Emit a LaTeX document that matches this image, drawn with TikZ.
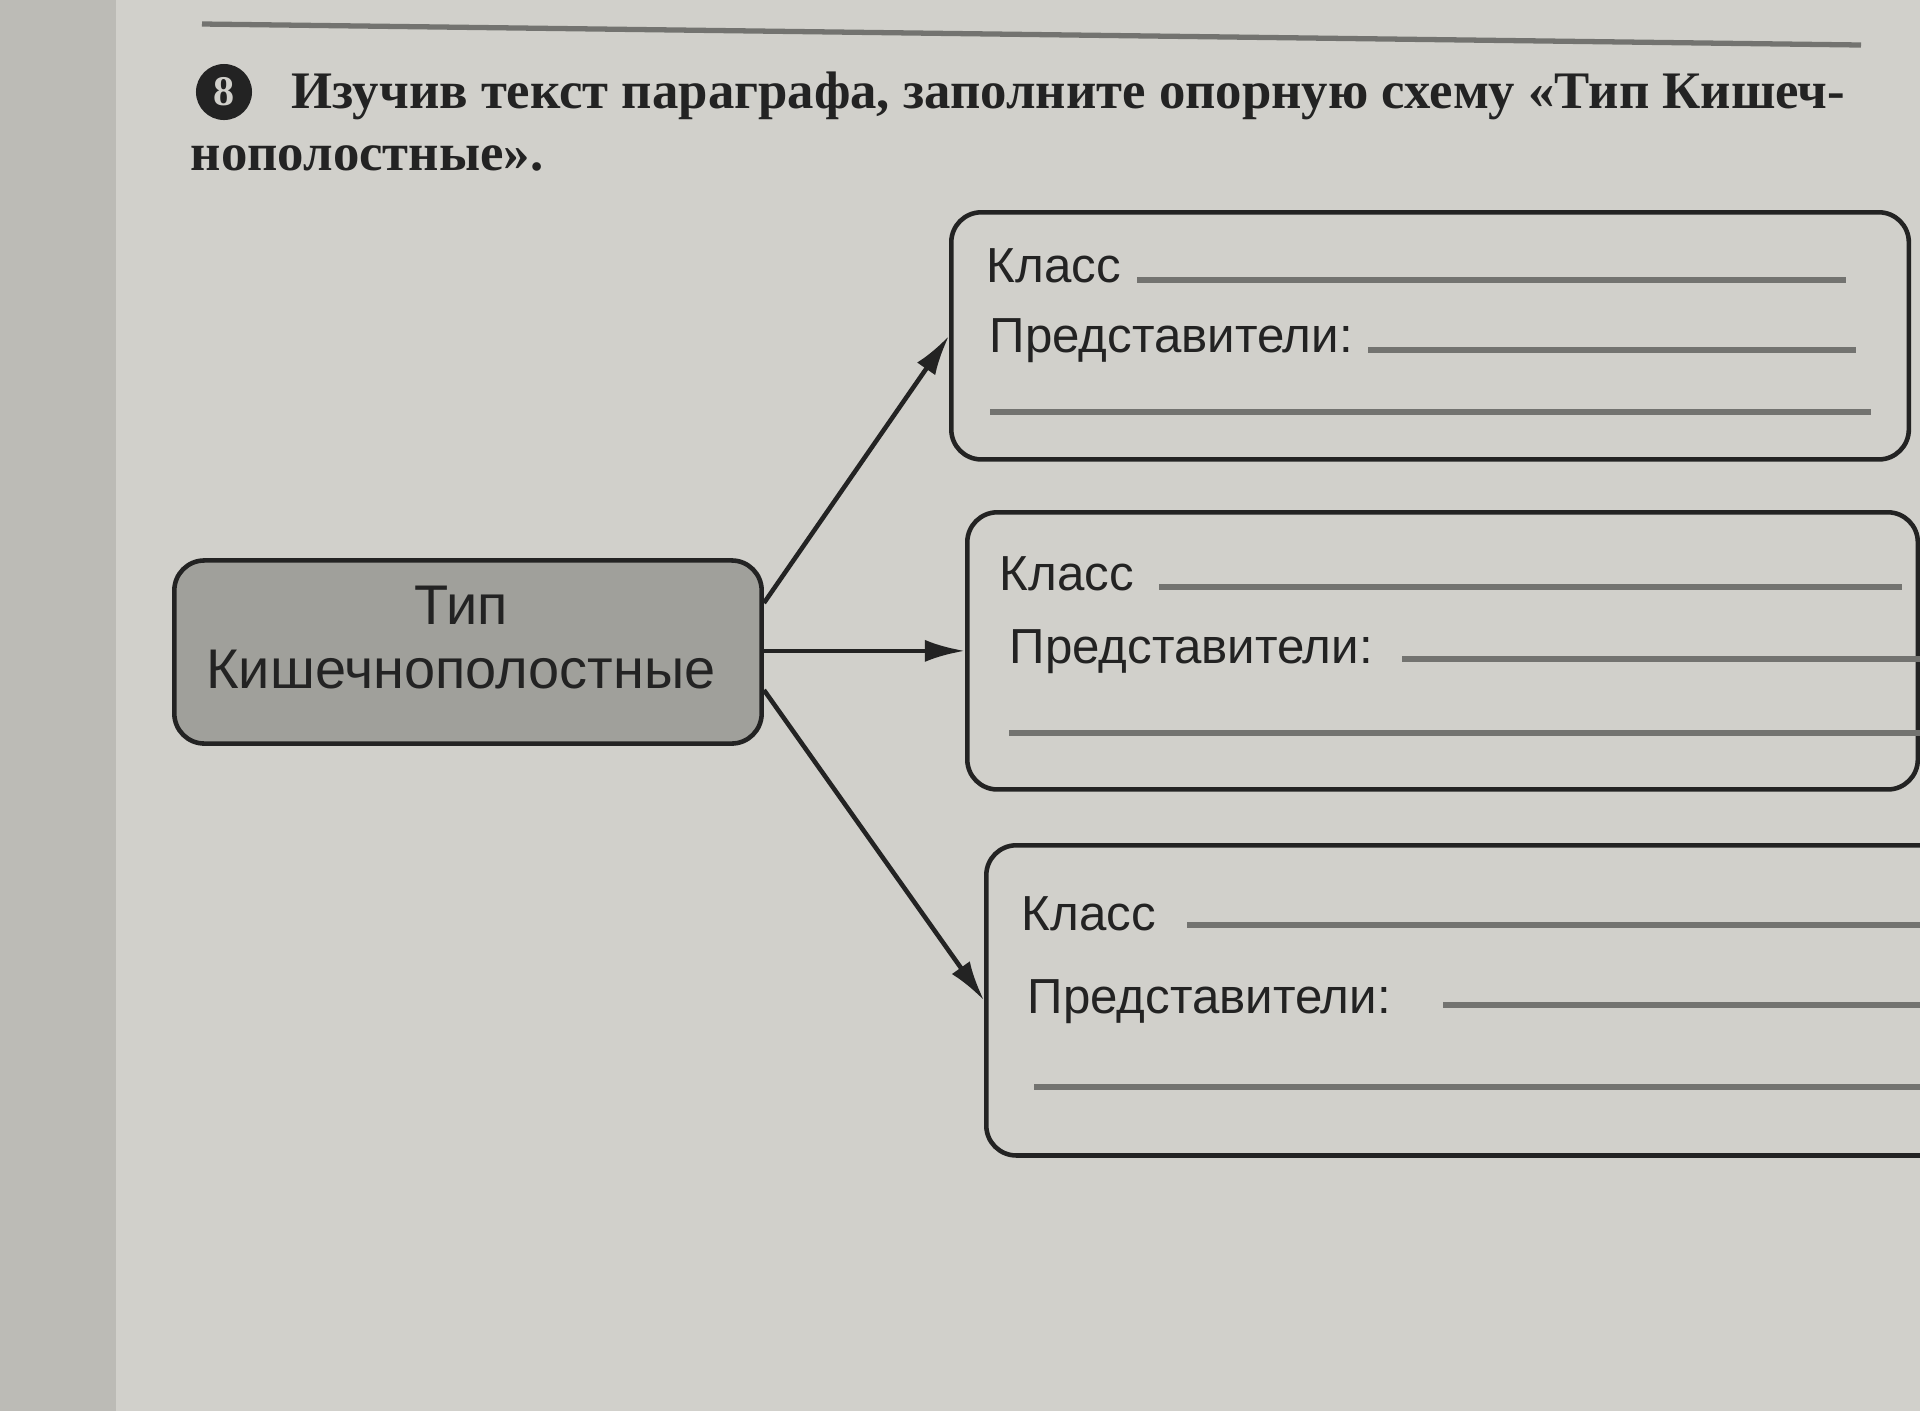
\documentclass[tikz,border=0pt]{standalone}
\usepackage{fontspec}
\setmainfont{Liberation Sans}
\newfontfamily\zadfont{Liberation Serif}
\usetikzlibrary{positioning, arrows.meta}

\definecolor{paper}{RGB}{209,208,203}
\definecolor{paperdark}{RGB}{188,187,182}
\definecolor{tipgray}{RGB}{160,160,155}
\definecolor{ink}{RGB}{35,35,35}
\definecolor{rulegray}{RGB}{115,115,112}

\tikzset{
    klassbox/.style={draw=ink, line width=1.3pt, rounded corners=0.3cm, anchor=north west, inner sep=0pt},
    pointer/.style={-{Latex[length=0.4cm, width=0.22cm]}, line width=1.3pt, draw=ink},
    fillline/.style={draw=rulegray, line width=1.9pt},
    lbl/.style={anchor=base west, inner sep=0pt, text=ink, font=\fontsize{14}{17}\selectfont},
    headline/.style={anchor=base west, inner sep=0pt, text=ink, font=\zadfont\bfseries\fontsize{15}{18}\selectfont},
}

\begin{document}
\begin{tikzpicture}[x=0.01cm, y=-0.01cm]
    \useasboundingbox (0,0) rectangle (1920,1411);
    \clip (0,0) rectangle (1920,1411);
    \fill[paper] (0,0) rectangle (1920,1411);
    \fill[paperdark] (0,0) rectangle (116,1411);
    \draw[rulegray, line width=1.5pt] (202,24) -- (1861,45);

    % heading
    \node[circle, fill=ink, minimum size=0.56cm, inner sep=0pt, text=paper, font=\zadfont\bfseries\fontsize{12}{12}\selectfont] (num) at (224,92) {8};
    \node[headline] (head) at (291,108) {Изучив текст параграфа, заполните опорную схему «Тип Кишеч-};
    \node[headline] (headend) at (190,170) {нополостные».};

    % central node
    \node[draw=ink, fill=tipgray, line width=1.3pt, rounded corners=0.3cm, minimum width=5.87cm, minimum height=1.83cm] (tip) at (468,652) {};
    \node[align=center, inner sep=0pt, text=ink, font=\fontsize{15.9}{18.2}\selectfont] (tiptext) at (461,638) {Тип\\Кишечнополостные};

    % class boxes
    \node[klassbox, minimum width=9.57cm, minimum height=2.47cm] (k1) at (949,210) {};
    \node[klassbox, minimum width=9.5cm, minimum height=2.77cm] (k2) at (965,510) {};
    \node[klassbox, minimum width=10cm, minimum height=3.1cm] (k3) at (984,843) {};

    \draw[pointer] ([yshift=0.49cm]tip.east) -- (k1.west);
    \draw[pointer] (tip.east |- k2.west) -- (k2.west);
    \draw[pointer] ([yshift=-0.38cm]tip.east) -- (k3.west);

    % box 1
    \node[lbl] (klass1) at (986,282) {Класс};
    \node[lbl] (pred1) at (989,352) {Представители:};
    \draw[fillline] (1137,280) -- (1846,280);
    \draw[fillline] (1368,350) -- (1856,350);
    \draw[fillline] (990,412) -- (1871,412);

    % box 2
    \node[lbl] (klass2) at (999,590) {Класс};
    \node[lbl] (pred2) at (1009,663) {Представители:};
    \draw[fillline] (1159,587) -- (1902,587);
    \draw[fillline] (1402,659) -- (1930,659);
    \draw[fillline] (1009,733) -- (1930,733);

    % box 3
    \node[lbl] (klass3) at (1021,930) {Класс};
    \node[lbl] (pred3) at (1027,1013) {Представители:};
    \draw[fillline] (1187,925) -- (1930,925);
    \draw[fillline] (1443,1005) -- (1930,1005);
    \draw[fillline] (1034,1087) -- (1930,1087);
\end{tikzpicture}
\end{document}
